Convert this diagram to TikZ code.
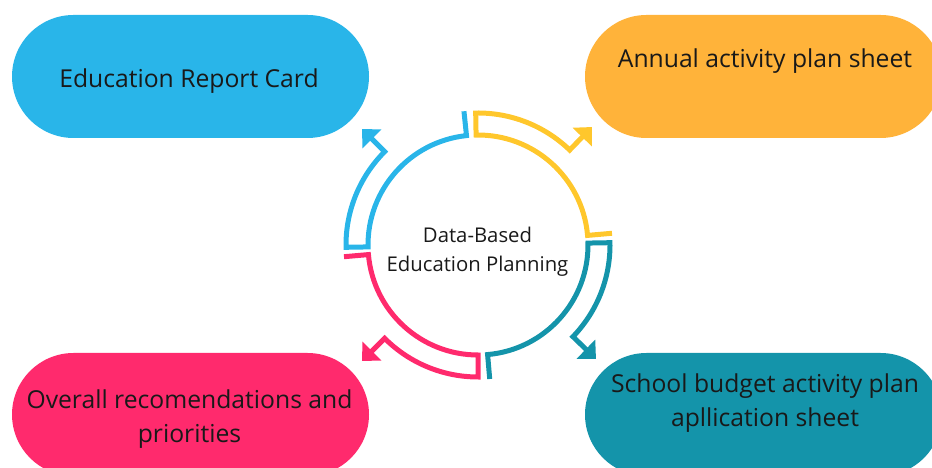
\documentclass[tikz,border=0pt]{standalone}
\usepackage{fontspec}
\setmainfont{Open Sans}
\usepackage{tikz}
\usepackage{xcolor}
\usetikzlibrary{calc,arrows.meta}
\definecolor{reportblue}{HTML}{29B5E9}
\definecolor{planorange}{HTML}{FFB33A}
\definecolor{budgetteal}{HTML}{1494AA}
\definecolor{prioritypink}{HTML}{FF2A6D}
\definecolor{ringyellow}{HTML}{FFC72C}
\colorlet{ringblue}{reportblue}
\colorlet{ringteal}{budgetteal}
\colorlet{ringpink}{prioritypink}
\colorlet{inktext}{black!90}
\tikzstyle{pillbox} = [
    rectangle,
    minimum width=357pt,
    minimum height=123pt,
    rounded corners=61.5pt,
    inner sep=0pt
    ]
\tikzstyle{pilltext} = [
    text=inktext,
    font=\fontsize{24.7}{34}\selectfont,
    align=center,
    inner sep=0pt
    ]
\tikzstyle{hubtext} = [
    text=inktext,
    font=\fontsize{20.3}{28.5}\selectfont,
    align=center,
    inner sep=0pt
    ]
\tikzstyle{ringarrow} = [
    line width=5pt,
    {Triangle[length=14pt,width=26pt]}-
    ]

\begin{document}
\begin{tikzpicture}[x=1pt,y=1pt]
\useasboundingbox (0,0) rectangle (932,468);
\clip (0,0) rectangle (932,468);

% the four outcome boxes
\node [pillbox, fill=reportblue] (report) at (190.5,391.5) {};
\node [pillbox, fill=planorange] (annual) at (763.5,391.5) {};
\node [pillbox, fill=prioritypink] (priorities) at (190.5,53.5) {};
\node [pillbox, fill=budgetteal] (budget) at (763.5,53.5) {};

\node [pilltext, anchor=base] (reportlabel) at (189,380.7) {Education Report Card};
\node [pilltext, anchor=base] (annuallabel) at (765,400) {Annual activity plan sheet};
\node [pilltext] (prioritieslabel) at (189.5,48.5) {Overall recomendations and\\priorities};
\node [pilltext] (budgetlabel) at (765,65) {School budget activity plan\\apllication sheet};

% the cycle in the middle
\coordinate (hub) at (478,223);
\node [hubtext] (hublabel) at (477.5,216.5) {Data-Based\\Education Planning};

\draw [ringarrow, ringblue] ($(hub)+(135:164)$) -- ($(hub)+(135:132)$)
    arc[start angle=135, end angle=181, radius=132] -- ($(hub)+(181:110)$)
    arc[start angle=181, end angle=96, radius=110] -- ++(96:24.5);

\draw [ringarrow, ringyellow] ($(hub)+(46:164)$) -- ($(hub)+(46:132)$)
    arc[start angle=46, end angle=91, radius=132] -- ($(hub)+(91:110)$)
    arc[start angle=91, end angle=5, radius=110] -- ++(5:24.5);

\draw [ringarrow, ringteal] ($(hub)+(-44:164)$) -- ($(hub)+(-44:132)$)
    arc[start angle=-44, end angle=1, radius=132] -- ($(hub)+(1:110)$)
    arc[start angle=1, end angle=-85, radius=110] -- ++(-85:24.5);

\draw [ringarrow, ringpink] ($(hub)+(-135:164)$) -- ($(hub)+(-135:132)$)
    arc[start angle=-135, end angle=-90, radius=132] -- ($(hub)+(-90:110)$)
    arc[start angle=-90, end angle=-175, radius=110] -- ++(-175:24.5);
\end{tikzpicture}
\end{document}
